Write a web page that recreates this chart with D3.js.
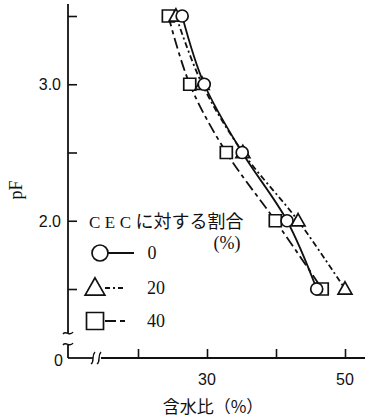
<!DOCTYPE html>
<html><head><meta charset="utf-8">
<script src="https://cdn.jsdelivr.net/npm/d3@7"></script>
<style>body{margin:0;background:#fff}svg{display:block}</style>
</head><body>
<script>
// ---- data ----
const pF = [3.5, 3.0, 2.5, 2.0, 1.5];
const series0 = [26.4, 29.6, 35.1, 41.6, 45.9];   // circle, CEC 0%
const series20 = [25.5, 29.3, 35.2, 43.2, 50.0];  // triangle, CEC 20%
const series40 = [24.4, 27.5, 32.8, 39.9, 46.7];  // square, CEC 40%
const seriesNames = ["0", "20", "40"];
const xTicks = [20, 30, 40, 50];
const xTickLabels = ["", "30", "", "50"];
const yTicks = [1.5, 2.0, 2.5, 3.0, 3.5];
const yTickLabels = ["", "2.0", "", "3.0", ""];

const W = 365, H = 420;
const svg = d3.select("body").append("svg").attr("width", W).attr("height", H);
const x = d3.scaleLinear().domain([20, 50]).range([138, 345]);
const y = d3.scaleLinear().domain([1.5, 3.5]).range([289, 16]);
const ax = 68, ay = 358;
const ink = "#111";

// axes
const xAxis = svg.append("g").attr("transform", `translate(0,${ay})`)
  .call(d3.axisTop(x).tickValues(xTicks).tickSize(9).tickFormat(""));
xAxis.select(".domain").remove();
xAxis.selectAll("line").attr("stroke", ink).attr("stroke-width", 1.6);
const yAxis = svg.append("g").attr("transform", `translate(${ax},0)`)
  .call(d3.axisRight(y).tickValues(yTicks).tickSize(9).tickFormat(""));
yAxis.select(".domain").remove();
yAxis.selectAll("line").attr("stroke", ink).attr("stroke-width", 1.6);

// axis lines with breaks
const axLine = svg.append("g").attr("stroke", ink).attr("stroke-width", 1.8).attr("fill", "none");
axLine.append("line").attr("x1", ax).attr("y1", 4).attr("x2", ax).attr("y2", 333);
axLine.append("line").attr("x1", ax).attr("y1", 345).attr("x2", ax).attr("y2", ay);
axLine.append("line").attr("x1", ax).attr("y1", ay).attr("x2", 93).attr("y2", ay);
axLine.append("line").attr("x1", 101).attr("y1", ay).attr("x2", W).attr("y2", ay);
// break marks
const brk = svg.append("g").attr("stroke", ink).attr("stroke-width", 1.4).attr("fill", "none");
brk.append("path").attr("d", "M63,334 C66,330 70,337 73,332");
brk.append("path").attr("d", "M63,345 C66,341 70,348 73,343");
brk.append("path").attr("d", "M95,352 C91,356 95,361 91,364");
brk.append("path").attr("d", "M101,352 C97,356 101,361 97,364");

// tick labels
const sans = "'Liberation Sans', Arial, sans-serif";
const serif = "'Liberation Serif', 'Noto Sans CJK JP', serif";
svg.append("g").selectAll("text").data(xTicks).join("text")
  .attr("x", d => x(d)).attr("y", 385).attr("text-anchor", "middle")
  .attr("font-family", sans).attr("font-size", 16).attr("fill", ink)
  .text((d, i) => xTickLabels[i]);
svg.append("g").selectAll("text").data(yTicks).join("text")
  .attr("x", 61).attr("y", d => y(d) + 6).attr("text-anchor", "end")
  .attr("font-family", sans).attr("font-size", 16).attr("fill", ink)
  .text((d, i) => yTickLabels[i]);
svg.append("text").attr("x", 63).attr("y", 366).attr("text-anchor", "end")
  .attr("font-family", sans).attr("font-size", 16).attr("fill", ink).text("0");

// axis titles
svg.append("text").attr("transform", "translate(22,190) rotate(-90)").attr("text-anchor", "middle")
  .attr("font-family", serif).attr("font-size", 18).attr("fill", ink).text("pF");
svg.append("text").attr("x", 213).attr("y", 413).attr("text-anchor", "middle")
  .attr("font-family", "'Noto Sans CJK JP', sans-serif").attr("font-size", 17).attr("fill", ink).text("含水比（%）");

// series
const series = [
  {vals: series0, dash: null, shape: "circle"},
  {vals: series20, dash: "6,3,2,3", shape: "triangle"},
  {vals: series40, dash: "11,4,4,4", shape: "square"}
];
const line = d3.line().curve(d3.curveCatmullRom.alpha(0.5));
function marker(g, shape, cx, cy, s) {
  const m = g.append("path").attr("fill", "#fff").attr("stroke", ink).attr("stroke-width", 1.7);
  if (shape === "circle") m.attr("d", d3.symbol(d3.symbolCircle, Math.PI * s * s / 4)());
  if (shape === "square") m.attr("d", `M${-s/2},${-s/2}h${s}v${s}h${-s}Z`);
  if (shape === "triangle") m.attr("d", `M0,${-s*0.6}L${s*0.58},${s*0.42}L${-s*0.58},${s*0.42}Z`);
  m.attr("transform", `translate(${cx},${cy})`);
}
series.forEach(s => {
  const pts = s.vals.map((v, i) => [x(v), y(pF[i])]);
  svg.append("path").attr("d", line(pts)).attr("fill", "none").attr("stroke", ink)
    .attr("stroke-width", 1.8).attr("stroke-dasharray", s.dash);
});
series.slice().reverse().forEach(s => {
  const g = svg.append("g");
  s.vals.forEach((v, i) => marker(g, s.shape, x(v), y(pF[i]), 12));
});

// legend
const lg = svg.append("g");
const title = lg.append("text").attr("x", 89).attr("y", 228).attr("font-family", serif)
  .attr("font-size", 17).attr("fill", ink);
title.append("tspan").attr("letter-spacing", 4.5).text("CEC");
title.append("tspan").attr("font-family", "'Noto Sans CJK JP', sans-serif").attr("font-size", 18).text("に対する割合");
lg.append("text").attr("x", 227).attr("y", 249).attr("text-anchor", "middle").attr("font-family", serif)
  .attr("font-size", 18).attr("fill", ink).text("(%)");
const legY = [253, 288, 321];
const legX = [100, 95, 95];
series.forEach((s, i) => {
  lg.append("line").attr("x1", legX[i]).attr("x2", 134).attr("y1", legY[i]).attr("y2", legY[i])
    .attr("stroke", ink).attr("stroke-width", 1.8)
    .attr("stroke-dasharray", i === 0 ? null : (i === 1 ? "0,10,5,3,2,3,5,3" : "0,10,11,4,5,3"));
  marker(lg, s.shape, legX[i], legY[i], i === 0 ? 16 : 17);
  lg.append("text").attr("x", i === 0 ? 152 : 156).attr("y", legY[i] + 6).attr("text-anchor", "middle")
    .attr("font-family", serif).attr("font-size", 18).attr("fill", ink).text(seriesNames[i]);
});
</script>
</body></html>
